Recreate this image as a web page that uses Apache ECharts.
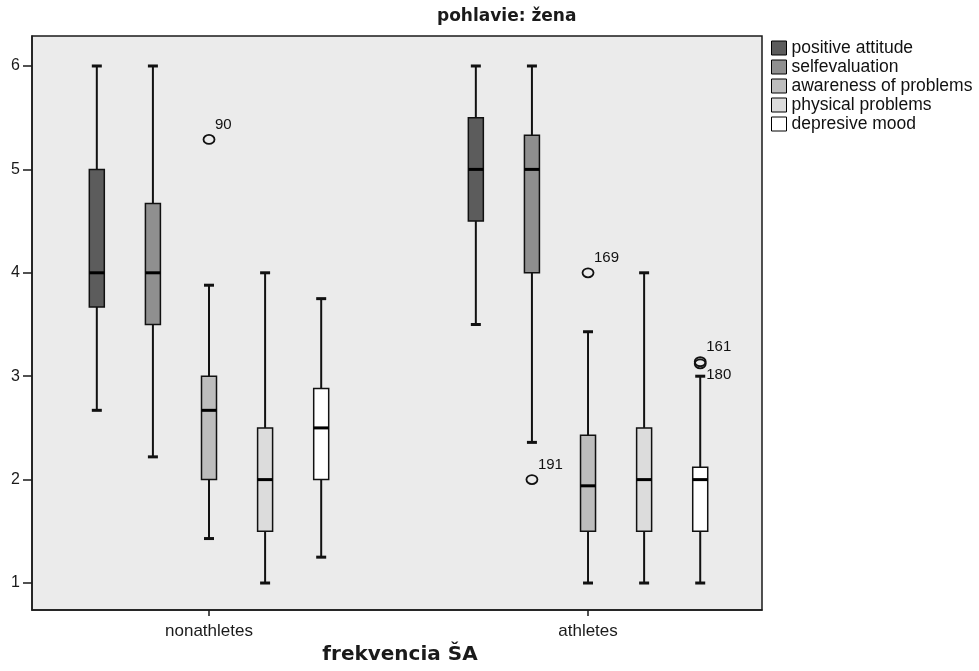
<!DOCTYPE html>
<html>
<head>
<meta charset="utf-8">
<title>pohlavie: žena</title>
<style>
  html, body { margin: 0; padding: 0; background: #fff; overflow: hidden; }
  #container { width: 979px; height: 671px; }
</style>
</head>
<body>
<div id="container"></div>
<script src="https://cdn.jsdelivr.net/npm/echarts@6/dist/echarts.min.js"></script>
<script>
// data
var categories = ['nonathletes', 'athletes'];
var seriesNames = ['positive attitude', 'selfevaluation', 'awareness of problems', 'physical problems', 'depresive mood'];
var yTicks = [1, 2, 3, 4, 5, 6];

// [low whisker, Q1, median, Q3, high whisker] for nonathletes, athletes
var positiveAttitude = [[2.67, 3.67, 4, 5, 6], [3.5, 4.5, 5, 5.5, 6]];
var selfevaluation = [[2.22, 3.5, 4, 4.67, 6], [2.36, 4, 5, 5.33, 6]];
var awareness = [[1.43, 2, 2.67, 3, 3.88], [1, 1.5, 1.94, 2.43, 3.43]];
var physical = [[1, 1.5, 2, 2.5, 4], [1, 1.5, 2, 2.5, 4]];
var depresive = [[1.25, 2, 2.5, 2.88, 3.75], [1, 1.5, 2, 2.12, 3]];

// outliers
var outlierCategory = [0, 1, 1, 1, 1];
var outlierSeries = [2, 1, 2, 4, 4];
var outlierValues = [5.29, 2, 4, 3.14, 3.12];
var outlierLabels = ['90', '191', '169', '161', '180'];

var boxes = [positiveAttitude, selfevaluation, awareness, physical, depresive];
var colors = ['#5c5c5c', '#8f8f8f', '#bdbdbd', '#dcdcdc', '#ffffff'];

var dom = document.getElementById('container');
var myChart = echarts.init(dom);

var SPREAD = 0.148; // distance between boxes, as part of one category step

function boxRenderer(k) {
    return function (params, api) {
        var x = api.value(0);
        var step = api.size([1, 0])[0];
        var cx = api.coord([x, api.value(3)])[0] + (k - 2) * step * SPREAD;
        var yLow = api.coord([x, api.value(1)])[1];
        var yQ1 = api.coord([x, api.value(2)])[1];
        var yMed = api.coord([x, api.value(3)])[1];
        var yQ3 = api.coord([x, api.value(4)])[1];
        var yHigh = api.coord([x, api.value(5)])[1];
        var hw = 7.5, cap = 5;
        var line = { stroke: '#111', lineWidth: 2 };
        return {
            type: 'group',
            children: [
                { type: 'line', shape: { x1: cx, y1: yHigh, x2: cx, y2: yQ3 }, style: line },
                { type: 'line', shape: { x1: cx, y1: yQ1, x2: cx, y2: yLow }, style: line },
                { type: 'line', shape: { x1: cx - cap, y1: yHigh, x2: cx + cap, y2: yHigh }, style: { stroke: '#111', lineWidth: 3 } },
                { type: 'line', shape: { x1: cx - cap, y1: yLow, x2: cx + cap, y2: yLow }, style: { stroke: '#111', lineWidth: 3 } },
                {
                    type: 'rect',
                    shape: { x: cx - hw, y: yQ3, width: hw * 2, height: yQ1 - yQ3 },
                    style: { fill: colors[k], stroke: '#111', lineWidth: 1.5 }
                },
                { type: 'line', shape: { x1: cx - hw, y1: yMed, x2: cx + hw, y2: yMed }, style: { stroke: '#000', lineWidth: 3 } }
            ]
        };
    };
}

var series = [];
for (var k = 0; k < boxes.length; k++) {
    var rows = [];
    for (var c = 0; c < categories.length; c++) {
        rows.push([c].concat(boxes[k][c]));
    }
    series.push({
        name: seriesNames[k],
        type: 'custom',
        data: rows,
        encode: { x: 0, y: [1, 2, 3, 4, 5] },
        itemStyle: { color: colors[k], borderColor: '#000', borderWidth: 1 },
        renderItem: boxRenderer(k),
        silent: true
    });
}

var outlierRows = [];
for (var i = 0; i < outlierValues.length; i++) {
    outlierRows.push([outlierCategory[i], outlierValues[i], outlierSeries[i], i]);
}

series.push({
    name: 'outliers',
    type: 'custom',
    data: outlierRows,
    encode: { x: 0, y: 1 },
    silent: true,
    z: 5,
    renderItem: function (params, api) {
        var x = api.value(0);
        var v = api.value(1);
        var k = api.value(2);
        var idx = api.value(3);
        var step = api.size([1, 0])[0];
        var p = api.coord([x, v]);
        var cx = p[0] + (k - 2) * step * SPREAD;
        var cy = p[1];
        // the lower one of a close pair gets its label below
        var below = false;
        for (var j = 0; j < outlierValues.length; j++) {
            if (j !== idx && outlierCategory[j] === x && outlierSeries[j] === k &&
                outlierValues[j] > v && outlierValues[j] - v < 0.1) {
                below = true;
            }
        }
        return {
            type: 'group',
            children: [
                {
                    type: 'ellipse',
                    shape: { cx: cx, cy: cy, rx: 5.5, ry: 4.5 },
                    style: { fill: 'none', stroke: '#111', lineWidth: 1.8 }
                },
                {
                    type: 'text',
                    style: {
                        text: outlierLabels[idx],
                        x: cx + 6,
                        y: below ? cy + 4 : cy - 7,
                        verticalAlign: below ? 'top' : 'bottom',
                        align: 'left',
                        font: '15px "Liberation Sans", Arial, sans-serif',
                        fill: '#111'
                    }
                }
            ]
        };
    }
});

var option = {
    backgroundColor: '#ffffff',
    animation: false,
    title: {
        text: 'pohlavie: žena',
        left: 432,
        top: 3,
        textStyle: {
            fontFamily: 'DejaVu Sans',
            fontWeight: 'bold',
            fontSize: 17,
            color: '#1a1a1a'
        }
    },
    legend: {
        orient: 'vertical',
        left: 766,
        top: 34,
        itemWidth: 15,
        itemHeight: 14,
        itemGap: 1,
        icon: 'rect',
        data: seriesNames,
        itemStyle: { borderColor: '#000', borderWidth: 1 },
        textStyle: {
            fontFamily: 'Liberation Sans',
            fontSize: 17.5,
            color: '#111'
        },
        selectedMode: false
    },
    grid: {
        left: 32,
        right: 217,
        top: 36,
        bottom: 61,
        outerBoundsMode: 'none',
        show: true,
        backgroundColor: '#ebebeb',
        borderColor: '#1a1a1a',
        borderWidth: 1.5
    },
    xAxis: {
        type: 'value',
        min: -0.467,
        max: 1.459,
        name: 'frekvencia ŠA',
        nameLocation: 'middle',
        nameGap: 35,
        nameTextStyle: {
            fontFamily: 'DejaVu Sans',
            fontWeight: 'bold',
            fontSize: 20,
            color: '#1a1a1a',
            padding: [0, 0, 0, 6]
        },
        splitLine: { show: false },
        axisLine: { show: true, onZero: false, lineStyle: { color: '#1a1a1a', width: 1.5 } },
        axisTick: {
            show: true,
            length: 6,
            customValues: [0, 1],
            lineStyle: { color: '#1a1a1a', width: 1.5 }
        },
        axisLabel: {
            customValues: [0, 1],
            margin: 13,
            fontFamily: 'Liberation Sans',
            fontSize: 17,
            color: '#1a1a1a',
            formatter: function (v) { return categories[Math.round(v)]; }
        }
    },
    yAxis: {
        type: 'value',
        min: 0.739,
        max: 6.29,
        splitLine: { show: false },
        axisLine: { show: true, onZero: false, lineStyle: { color: '#1a1a1a', width: 1.5 } },
        axisTick: {
            show: true,
            length: 9,
            customValues: yTicks,
            lineStyle: { color: '#1a1a1a', width: 1.5 }
        },
        axisLabel: {
            customValues: yTicks,
            margin: 12,
            fontFamily: 'Liberation Sans',
            fontSize: 16,
            color: '#1a1a1a'
        }
    },
    series: series
};

myChart.setOption(option);
</script>
</body>
</html>
